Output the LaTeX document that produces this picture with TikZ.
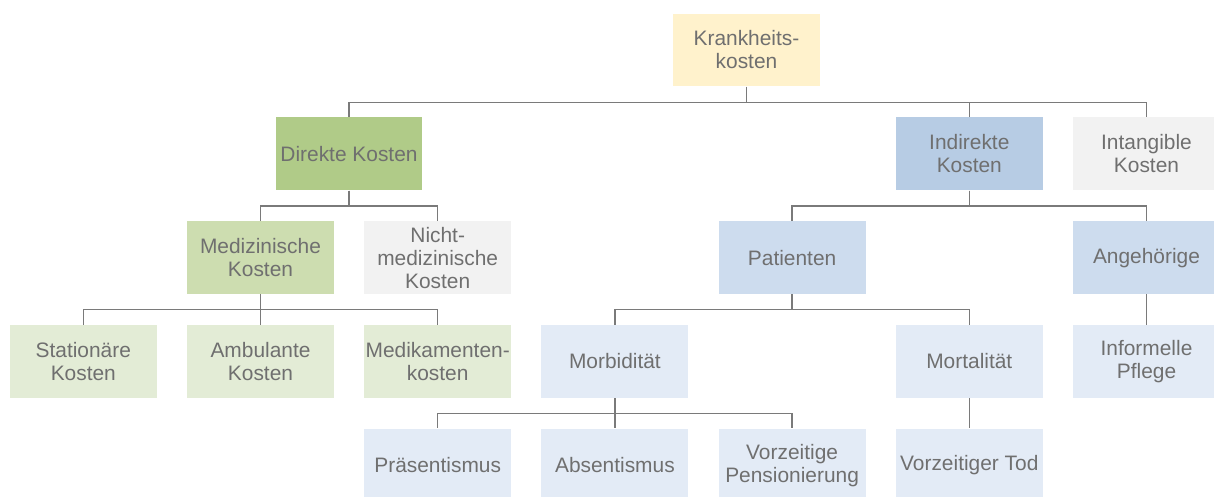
\documentclass[tikz,border=0pt]{standalone}
\usepackage{fontspec}
\setmainfont{Liberation Sans}
\definecolor{txtgray}{HTML}{6F6F6F}
\definecolor{linegray}{HTML}{7A7A7A}
\definecolor{topyellow}{HTML}{FFF2CC}
\definecolor{greenA}{HTML}{B0CB88}
\definecolor{greenB}{HTML}{CDDDB0}
\definecolor{greenC}{HTML}{E3ECD6}
\definecolor{blueA}{HTML}{B7CCE4}
\definecolor{blueB}{HTML}{CDDCEE}
\definecolor{blueC}{HTML}{E3EBF6}
\definecolor{lightgray}{HTML}{F2F2F2}
\begin{document}
\begin{tikzpicture}[x=.02cm,y=-.02cm,
	box/.style={minimum width=2.94cm,minimum height=1.46cm,inner sep=0pt,align=center,text=txtgray,font=\fontsize{11.9}{13.1}\selectfont},
	link/.style={draw=linegray,line width=.7pt}]
	\clip (0,0) rectangle (1214,497);
	\node[box,fill=topyellow] (K) at (746.5,50) {Krankheits-\\kosten};
	% second level
	\node[box,fill=greenA] (D) at (349,153.8) {Direkte Kosten};
	\node[box,fill=blueA] (I) at (969.3,153.8) {Indirekte\\Kosten};
	\node[box,fill=lightgray] (T) at (1146.5,153.8) {Intangible\\Kosten};
	% third level
	\node[box,fill=greenB] (M) at (260.5,257.6) {Medizinische\\Kosten};
	\node[box,fill=lightgray] (N) at (437.7,257.6) {Nicht-\\medizinische\\Kosten};
	\node[box,fill=blueB] (P) at (792.1,257.6) {Patienten};
	\node[box,fill=blueB] (A) at (1146.5,257.6) {Angehörige};
	% fourth level
	\node[box,fill=greenC] (S) at (83.3,361.4) {Stationäre\\Kosten};
	\node[box,fill=greenC] (B) at (260.5,361.4) {Ambulante\\Kosten};
	\node[box,fill=greenC] (Med) at (437.7,361.4) {Medikamenten-\\kosten};
	\node[box,fill=blueC] (Mb) at (614.9,361.4) {Morbidität};
	\node[box,fill=blueC] (Mt) at (969.3,361.4) {Mortalität};
	\node[box,fill=blueC] (IP) at (1146.5,361.4) {Informelle\\Pflege};
	% fifth level
	\node[box,fill=blueC] (Pr) at (437.7,465.2) {Präsentismus};
	\node[box,fill=blueC] (Ab) at (614.9,465.2) {Absentismus};
	\node[box,fill=blueC] (VP) at (792.1,465.2) {Vorzeitige\\Pensionierung};
	\node[box,fill=blueC] (VT) at (969.3,465.2) {Vorzeitiger Tod};
	\foreach \a/\b in {K/D,K/I,K/T,D/M,D/N,I/P,I/A,M/S,M/B,M/Med,P/Mb,P/Mt,A/IP,Mb/Pr,Mb/Ab,Mb/VP,Mt/VT}
		\draw[link] (\a.south) -- ++(0,15.4) -| (\b.north);
\end{tikzpicture}
\end{document}
